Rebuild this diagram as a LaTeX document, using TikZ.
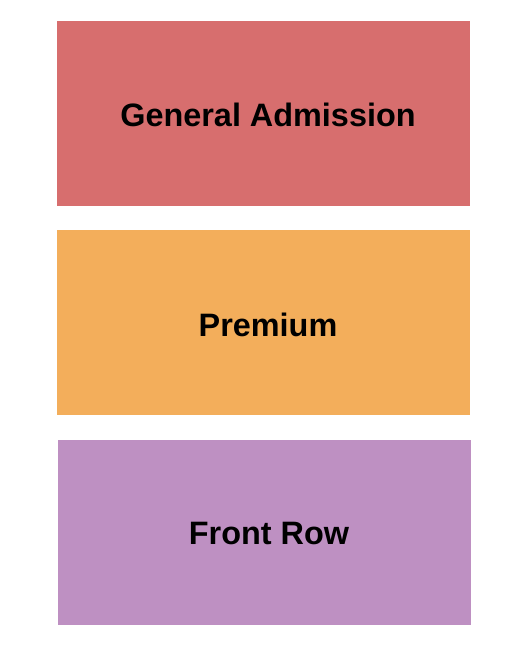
\documentclass[tikz,border=0pt]{standalone}
\usepackage{fontspec}
\setmainfont{Liberation Sans}
\definecolor{gacol}{RGB}{215,110,110}
\definecolor{premcol}{RGB}{243,174,91}
\definecolor{frcol}{RGB}{190,144,194}
\begin{document}
\begin{tikzpicture}[x=1pt,y=-1pt,
  sect/.style={anchor=north west,inner sep=0pt,outer sep=0pt},
  lbl/.style={font=\fontsize{32.4}{36}\selectfont\bfseries,inner sep=0pt}]
\useasboundingbox[fill=white] (0,0) rectangle (525,650);
\node[sect,fill=gacol,minimum width=412.5pt,minimum height=185pt] (ga) at (57,21) {};
\node[sect,fill=premcol,minimum width=412.5pt,minimum height=185pt] (prem) at (57,230) {};
\node[sect,fill=frcol,minimum width=412.5pt,minimum height=185pt] (fr) at (58,440) {};
\node[lbl] (galbl) at (268,115) {General Admission};
\node[lbl] (premlbl) at (268,325) {Premium};
\node[lbl] (frlbl) at (269,534) {Front Row};
\end{tikzpicture}
\end{document}
